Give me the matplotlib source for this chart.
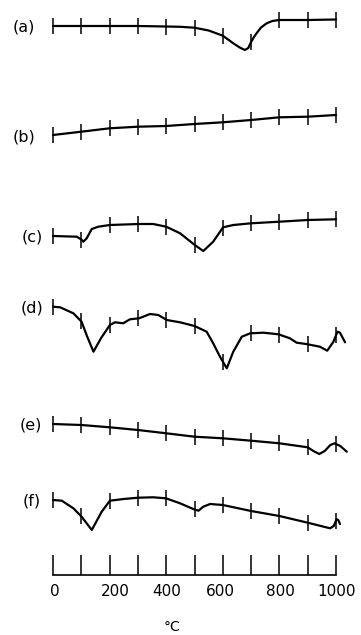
#!/usr/bin/env python3
"""DTA curves (a)-(f), 0-1000 °C, stacked with hand-drawn style tick marks."""
import numpy as np
import matplotlib
matplotlib.use("Agg")
import matplotlib.pyplot as plt

# temperatures (°C) and deflections (upward = positive, arbitrary units) per curve
a_t = [0, 100, 200, 300, 400, 450, 500, 550, 600, 637, 661, 678, 690, 700, 710, 720, 735, 755, 775, 800, 900, 1000]
a_v = [0, 0, 0, 0, -0.5, -0.8, -1.7, -4.5, -9.7, -17.3, -21.7, -24, -22, -16, -11, -7, -1.5, 2.7, 5, 6, 6, 6.5]

b_t = [0, 100, 200, 300, 400, 500, 600, 700, 800, 900, 1000]
b_v = [0, 3.3, 6.7, 8.3, 9, 11, 12.7, 15, 17.7, 18.3, 20]

c_t = [0, 84, 100, 107, 119, 137, 160, 201, 304, 354, 400, 449, 501, 531, 566, 601, 637, 700, 800, 900, 1000]
c_v = [0, -0.7, -3.5, -5.7, -2.3, 7, 9.3, 11, 12, 12, 9.3, 2.7, -9, -15, -5.7, 8.7, 11, 12.7, 14.3, 16, 16.7]

d_t = [0, 25, 72, 101, 120, 143, 170, 201, 219, 248, 272, 304, 343, 372, 402, 449, 500, 543, 566, 590,
       614, 637, 667, 697, 744, 797, 837, 861, 894, 943, 969, 991, 1005, 1014, 1032]
d_v = [0, -0.6, -6.6, -15, -29.3, -45, -31.3, -18.3, -15.6, -16.6, -12.6, -11.6, -7.3, -8.3, -13.3, -15.6, -19.3, -25, -36.6, -50,
       -61.6, -45, -30, -26.6, -26, -27.6, -31.6, -36, -37.3, -40, -44, -35, -25, -26, -35.6]

e_t = [0, 100, 200, 300, 400, 500, 600, 700, 800, 900, 920, 941, 960, 980, 995, 1015, 1038]
e_v = [0, -1, -3.3, -6, -9.3, -12.7, -14.3, -16.7, -19.3, -23.3, -27, -30, -27, -21, -19.3, -22, -27.7]

f_t = [0, 31, 72, 101, 137, 172, 201, 250, 301, 354, 399, 449, 498, 514, 531, 555, 600, 700, 800, 900,
       979, 992, 1002, 1008, 1014]
f_v = [0, -0.7, -8.3, -16.7, -30, -11.7, -0.7, 1, 2.3, 2.7, 1.7, -3.3, -9.3, -10.7, -6.7, -4, -5, -11, -16, -22.7,
       -28.3, -26, -19.3, -20, -24]

labels = ["(a)", "(b)", "(c)", "(d)", "(e)", "(f)"]
temps = [a_t, b_t, c_t, d_t, e_t, f_t]
vals = [a_v, b_v, c_v, d_v, e_v, f_v]
scale_ticks = list(range(0, 1001, 100))
scale_labels = ["0", "200", "400", "600", "800", "1000"]

# layout (vertical position of each trace, label right edge in °C units)
offsets = [26, 135, 236, 306.7, 424, 500]
label_x = [-63, -63, -35, -35, -40, -45]
scale_label_x = [7, 220, 400, 590, 802, 1003]

fig = plt.figure(figsize=(3.61, 6.35), dpi=100)
ax = fig.add_axes([0, 0, 1, 1])
ax.set_xlim(-187.3, 1088.3)
ax.set_ylim(635, 0)
ax.axis("off")

for lab, t, v, off, lx in zip(labels, temps, vals, offsets, label_x):
    y = off - np.array(v)
    ax.plot(t, y, color="k", lw=1.6, solid_capstyle="round", solid_joinstyle="round")
    yt = off - np.interp(scale_ticks, t, v)
    ax.vlines(scale_ticks, yt - 8, yt + 8, color="k", lw=1.1)
    ax.text(lx, off + 1.5, lab, ha="right", va="center", fontsize=11.5)

# temperature scale
ax.plot([0, 1000], [575, 575], color="k", lw=1.2)
ax.vlines(scale_ticks, 555, 575, color="k", lw=1.1)
for x, s in zip(scale_label_x, scale_labels):
    ax.text(x, 591, s, ha="center", va="center", fontsize=11)
ax.text(420, 627, "°C", ha="center", va="center", fontsize=10)

fig.savefig("out.png", dpi=100)
